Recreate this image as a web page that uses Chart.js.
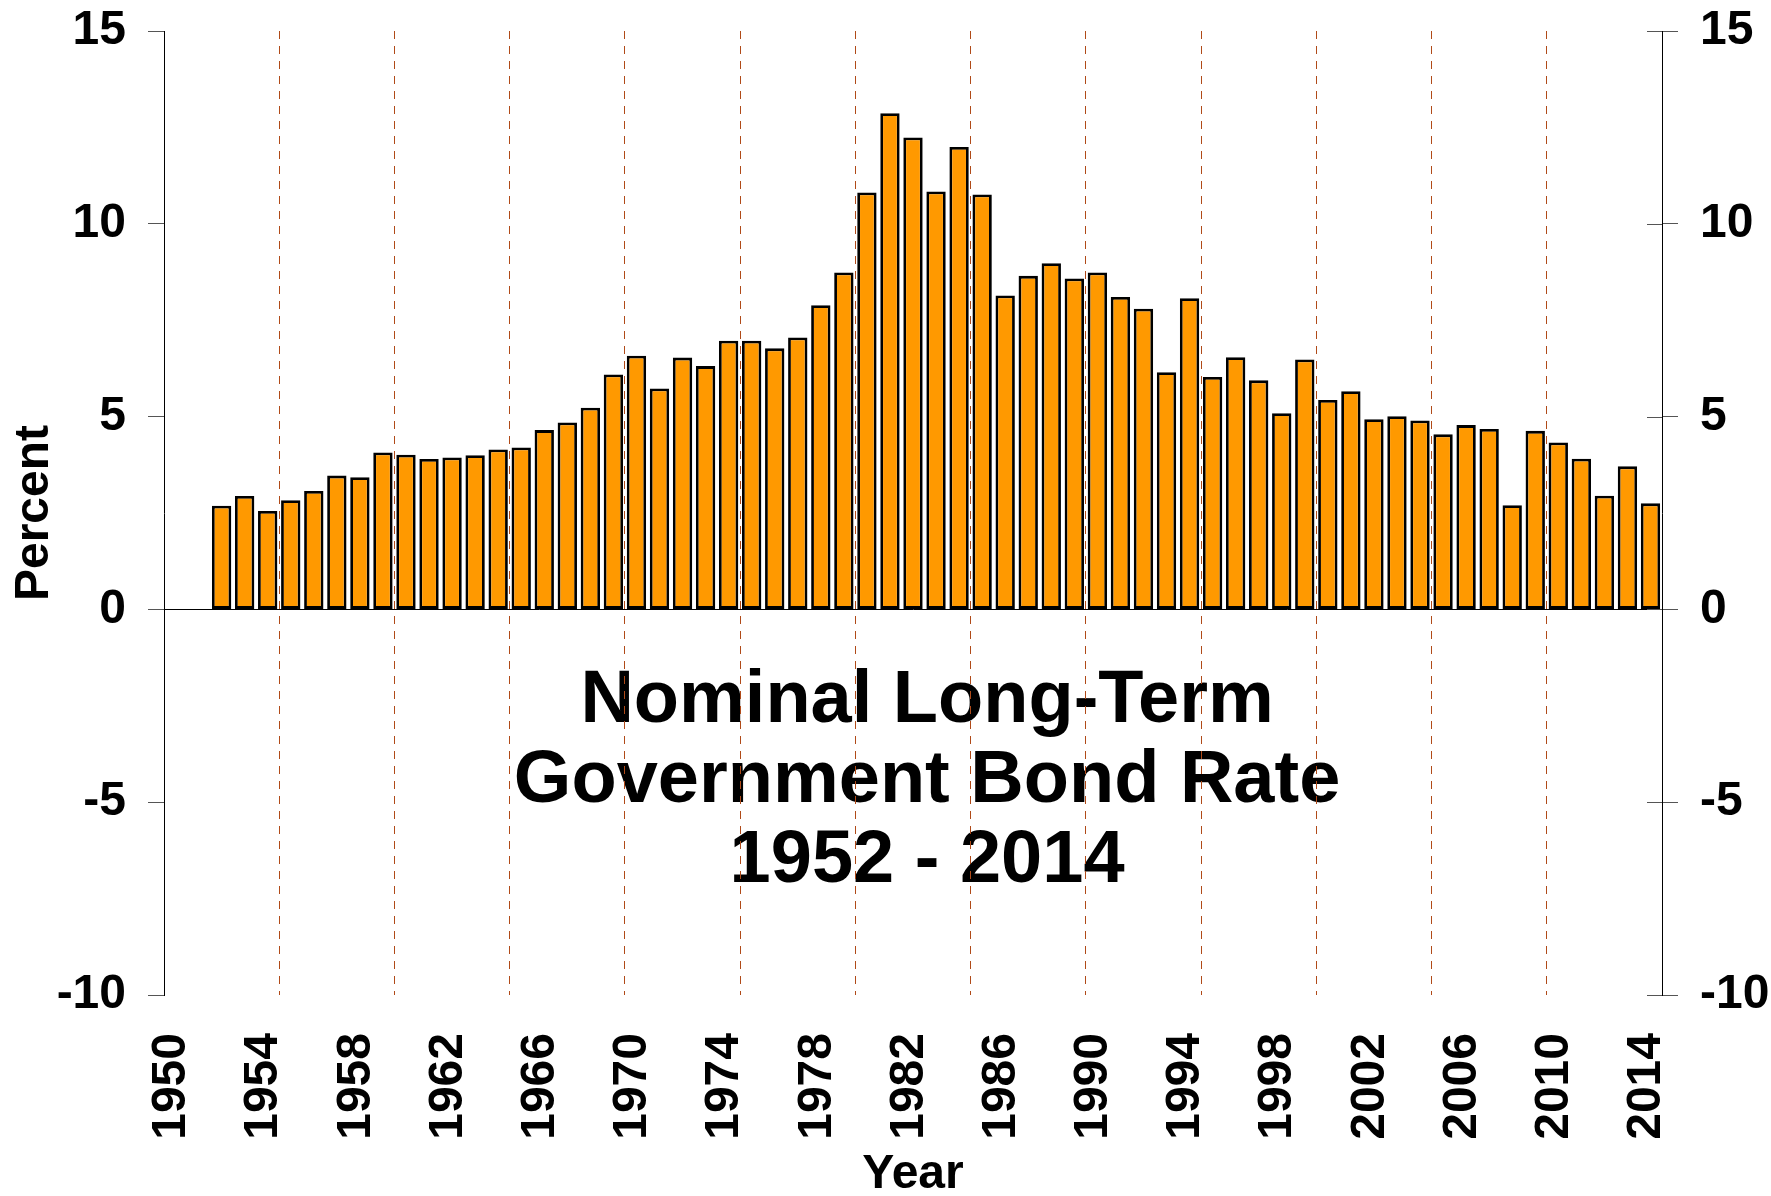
<!DOCTYPE html>
<html>
<head>
<meta charset="utf-8">
<script src="https://cdn.jsdelivr.net/npm/chart.js@4/dist/chart.umd.min.js"></script>
<style>
  html, body { margin: 0; padding: 0; background: #ffffff; }
  #wrap { width: 1771px; height: 1196px; }
</style>
</head>
<body>
<div id="wrap"><canvas id="c" width="1771" height="1196"></canvas></div>
<script>
// ---- data ----
const years = [1952,1953,1954,1955,1956,1957,1958,1959,1960,1961,1962,1963,1964,1965,1966,1967,1968,
  1969,1970,1971,1972,1973,1974,1975,1976,1977,1978,1979,1980,1981,1982,1983,1984,1985,1986,1987,1988,1989,1990,1991,1992,1993,1994,
  1995,1996,1997,1998,1999,2000,2001,2002,2003,2004,2005,2006,2007,2008,2009,2010,2011,2012,2013,2014];
const rates = [2.69,2.94,2.55,2.83,3.07,3.47,3.43,4.07,4.01,3.90,3.94,4.00,4.15,4.20,4.65,4.85,5.23,
  6.09,6.58,5.73,6.53,6.31,6.97,6.97,6.77,7.05,7.89,8.74,10.81,12.87,12.24,10.84,11.99,10.76,8.14,8.65,8.98,8.58,8.74,8.10,7.80,6.15,8.07,
  6.03,6.54,5.94,5.09,6.48,5.43,5.66,4.93,5.01,4.90,4.54,4.78,4.68,2.70,4.63,4.33,3.91,2.95,3.71,2.75];
const xLabelYears = [1950,1954,1958,1962,1966,1970,1974,1978,1982,1986,1990,1994,1998,2002,2006,2010,2014];
const xGridYears = [1955,1960,1965,1970,1975,1980,1985,1990,1995,2000,2005,2010];
const yTicks = [-10,-5,0,5,10,15];
const titleLines = ['Nominal Long-Term', 'Government Bond Rate', '1952 - 2014'];
const xAxisTitle = 'Year';
const yAxisTitle = 'Percent';

const FONT = "'Liberation Sans', Arial, Helvetica, sans-serif";
const tickYears = Array.from(new Set(xLabelYears.concat(xGridYears, [2015]))).sort((a, b) => a - b);

const centerTitle = {
  id: 'centerTitle',
  beforeDraw(chart) {
    const ca = chart.chartArea, ctx = chart.ctx;
    const w = ca.right - ca.left, h = ca.bottom - ca.top;
    ctx.save();
    ctx.fillStyle = '#000';
    ctx.font = "bold 74px " + FONT;
    ctx.textAlign = 'center';
    ctx.textBaseline = 'alphabetic';
    const cx = ca.left + 0.5094 * w;
    titleLines.forEach((t, i) => {
      ctx.fillText(t, cx, ca.top + 0.7165 * h + i * 80);
    });
    ctx.restore();
  }
};

const innerTicks = {
  id: 'innerTicks',
  afterDraw(chart) {
    const s = chart.scales.y2, ctx = chart.ctx;
    ctx.save();
    ctx.strokeStyle = '#555';
    ctx.lineWidth = 1;
    s.ticks.forEach(t => {
      const py = Math.round(s.getPixelForValue(t.value)) + 0.5;
      ctx.beginPath();
      ctx.moveTo(s.left - 15, py);
      ctx.lineTo(s.left, py);
      ctx.stroke();
    });
    ctx.restore();
  }
};

function fixVertical(width) {
  return (scale) => {
    scale.width = width;
    scale.paddingTop = 0;
    scale.paddingBottom = 0;
  };
}

new Chart(document.getElementById('c'), {
  type: 'bar',
  data: {
    datasets: [{
      data: years.map((y, i) => ({ x: y + 0.5, y: rates[i] })),
      backgroundColor: '#FF9900',
      borderColor: '#000000',
      borderWidth: 2.8,
      borderSkipped: false,
      categoryPercentage: 1.0,
      barPercentage: 0.84,
      yAxisID: 'y'
    }]
  },
  options: {
    responsive: false,
    devicePixelRatio: 1,
    animation: false,
    layout: { padding: { top: 31, left: 0, right: 0, bottom: 0 } },
    plugins: { legend: { display: false }, tooltip: { enabled: false }, title: { display: false } },
    scales: {
      x: {
        type: 'linear',
        position: 'bottom',
        min: 1950,
        max: 2015,
        offset: false,
        afterBuildTicks: (scale) => { scale.ticks = tickYears.map(v => ({ value: v })); },
        afterFit: (scale) => { scale.height = 201; },
        grid: {
          offset: false,
          drawTicks: false,
          lineWidth: 1,
          color: (ctx) => (ctx.tick && xGridYears.includes(ctx.tick.value)) ? '#B04A18' : 'rgba(0,0,0,0)'
        },
        border: { display: false, dash: [8, 7] },
        ticks: {
          autoSkip: false,
          maxRotation: 90,
          minRotation: 90,
          padding: 38,
          labelOffset: 8,
          color: '#000',
          font: { family: FONT, size: 48, weight: 'bold' },
          callback: (v) => xLabelYears.includes(v) ? String(v) : ''
        },
        title: {
          display: true,
          text: xAxisTitle,
          color: '#000',
          font: { family: FONT, size: 48, weight: 'bold', lineHeight: 0.875 },
          padding: { top: 0, bottom: 0 }
        }
      },
      y: {
        position: 'left',
        min: -10,
        max: 15,
        afterBuildTicks: (scale) => { scale.ticks = yTicks.map(v => ({ value: v })); },
        afterFit: fixVertical(164),
        grid: {
          drawOnChartArea: true,
          drawTicks: true,
          tickLength: 16,
          tickColor: '#555',
          lineWidth: 1,
          color: (ctx) => (ctx.tick && ctx.tick.value === 0) ? '#000' : 'rgba(0,0,0,0)'
        },
        border: { display: true, color: '#000', width: 1 },
        ticks: {
          padding: 22,
          color: '#000',
          font: { family: FONT, size: 48, weight: 'bold' }
        },
        title: {
          display: true,
          text: yAxisTitle,
          color: '#000',
          font: { family: FONT, size: 48, weight: 'bold', lineHeight: 1 },
          padding: { top: 11, bottom: 0 }
        }
      },
      y2: {
        position: 'right',
        min: -10,
        max: 15,
        afterBuildTicks: (scale) => { scale.ticks = yTicks.map(v => ({ value: v })); },
        afterFit: fixVertical(109),
        grid: {
          drawOnChartArea: false,
          drawTicks: true,
          tickLength: 16,
          tickColor: '#555',
          color: '#555',
          lineWidth: 1
        },
        border: { display: true, color: '#000', width: 1 },
        ticks: {
          padding: 22,
          color: '#000',
          font: { family: FONT, size: 48, weight: 'bold' }
        }
      }
    }
  },
  plugins: [centerTitle, innerTicks]
});
</script>
</body>
</html>
